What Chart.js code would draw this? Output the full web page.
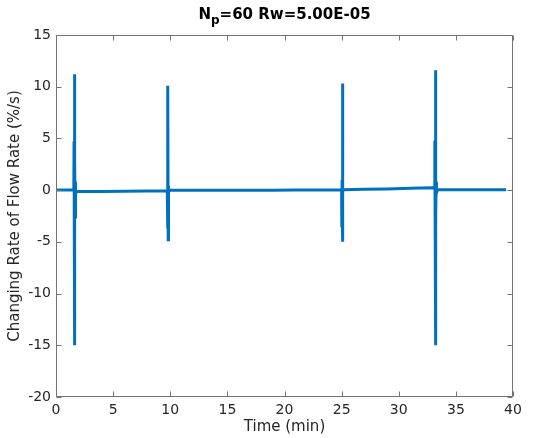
<!DOCTYPE html>
<html>
<head>
<meta charset="utf-8">
<script src="https://cdn.jsdelivr.net/npm/chart.js@4"></script>
<style>
  html, body { margin: 0; padding: 0; background: #fff; }
  #wrap { width: 537px; height: 438px; }
</style>
</head>
<body>
<div id="wrap"><canvas id="rateChart" width="537" height="438"></canvas></div>
<script>
// data
const timeMin = [
    0, 0.5, 1.0, 1.5, 1.56, 1.58, 1.60, 1.62, 1.64, 1.66, 1.68, 1.70, 1.72, 1.80,
    2.5, 4, 6, 8, 9.5, 9.74, 9.76, 9.78, 9.80, 9.82, 9.84, 9.86, 9.95,
    11, 13, 15, 17, 19, 21, 23, 24.9, 25.00, 25.02, 25.04, 25.06, 25.08, 25.10, 25.12, 25.2,
    27, 29, 31, 33.0, 33.14, 33.16, 33.18, 33.20, 33.22, 33.24, 33.26, 33.28, 33.30, 33.40,
    35, 37, 39.4
];
const rateVals = [
    0.02, 0.02, 0.02, 0.02, 0.0, 4.7, -1.5, 11.2, -15.0, 3.0, -2.6, 0.8, -0.4, -0.1,
    -0.12, -0.12, -0.1, -0.08, -0.08, -0.08, -3.7, 1.2, 10.1, -4.8, 0.4, -0.2, 0.0,
    0.0, 0.0, 0.0, 0.0, 0.0, 0.02, 0.02, 0.02, 0.05, -3.6, 1.0, 10.3, -5.0, 0.5, -0.1, 0.05,
    0.08, 0.12, 0.18, 0.22, 0.2, 4.8, -1.5, 11.6, -15.0, 3.0, -2.6, 0.8, -0.3, 0.05,
    0.05, 0.05, 0.05
];
const xTicks = [0, 5, 10, 15, 20, 25, 30, 35, 40];
const yTicks = [-20, -15, -10, -5, 0, 5, 10, 15];

const textColor = '#262626';
const boxColor = '#737373';
const fontFam = '"DejaVu Sans", sans-serif';

// MATLAB style box with inward tick marks
const boxTicks = {
    id: 'boxTicks',
    afterDatasetsDraw(chart) {
        const { ctx, chartArea: a, scales: { x, y } } = chart;
        ctx.save();
        ctx.strokeStyle = boxColor;
        ctx.lineWidth = 1;
        const L = Math.round(a.left) + 0.5, R = Math.round(a.right) - 0.5;
        const T = Math.round(a.top) + 0.5, B = Math.round(a.bottom) - 0.5;
        ctx.beginPath();
        ctx.rect(L, T, R - L, B - T);
        xTicks.forEach(v => {
            const px = Math.round(x.getPixelForValue(v)) + 0.5;
            ctx.moveTo(px, B); ctx.lineTo(px, B - 5);
            ctx.moveTo(px, T); ctx.lineTo(px, T + 5);
        });
        yTicks.forEach(v => {
            const py = Math.round(y.getPixelForValue(v)) + 0.5;
            ctx.moveTo(L, py); ctx.lineTo(L + 5, py);
            ctx.moveTo(R, py); ctx.lineTo(R - 5, py);
        });
        ctx.stroke();
        ctx.restore();
    }
};

// title with subscript p
const subTitle = {
    id: 'subTitle',
    afterDraw(chart) {
        const { ctx, chartArea: a } = chart;
        ctx.save();
        ctx.fillStyle = '#000';
        ctx.textBaseline = 'alphabetic';
        const big = 'bold 15px ' + fontFam, small = 'bold 12px ' + fontFam;
        ctx.font = big;
        const w1 = ctx.measureText('N').width;
        const w3 = ctx.measureText('=60 Rw=5.00E-05').width;
        ctx.font = small;
        const w2 = ctx.measureText('p').width;
        let x0 = (a.left + a.right) / 2 - (w1 + w2 + w3) / 2;
        const base = 19;
        ctx.font = big;
        ctx.fillText('N', x0, base);
        ctx.font = small;
        ctx.fillText('p', x0 + w1, base + 5);
        ctx.font = big;
        ctx.fillText('=60 Rw=5.00E-05', x0 + w1 + w2, base);
        ctx.restore();
    }
};

new Chart(document.getElementById('rateChart'), {
    type: 'line',
    data: {
        datasets: [{
            data: timeMin.map((t, i) => ({ x: t, y: rateVals[i] })),
            borderColor: '#0072BD',
            borderWidth: 3,
            pointRadius: 0,
            tension: 0,
            fill: false
        }]
    },
    options: {
        responsive: false,
        animation: false,
        events: [],
        layout: { padding: { top: 35, right: 24, bottom: 0, left: 0 } },
        plugins: {
            legend: { display: false },
            tooltip: { enabled: false }
        },
        scales: {
            x: {
                type: 'linear',
                min: 0,
                max: 40,
                afterBuildTicks: s => { s.ticks = xTicks.map(v => ({ value: v })); },
                afterFit: s => { s.height = 41; },
                grid: { display: false, drawTicks: false },
                border: { display: false },
                ticks: { padding: 5, color: textColor, font: { family: fontFam, size: 14 } },
                title: {
                    display: true,
                    text: 'Time (min)',
                    color: textColor,
                    font: { family: fontFam, size: 15 },
                    padding: { top: 0, bottom: 2 }
                }
            },
            y: {
                min: -20,
                max: 15,
                afterBuildTicks: s => { s.ticks = yTicks.map(v => ({ value: v })); },
                afterFit: s => { s.width = 56; },
                grid: { display: false, drawTicks: false },
                border: { display: false },
                ticks: { padding: 5, color: textColor, font: { family: fontFam, size: 14 } },
                title: {
                    display: true,
                    text: 'Changing Rate of Flow Rate (%/s)',
                    color: textColor,
                    font: { family: fontFam, size: 15 },
                    padding: { top: 6, bottom: 0 }
                }
            }
        }
    },
    plugins: [boxTicks, subTitle]
});
</script>
</body>
</html>
